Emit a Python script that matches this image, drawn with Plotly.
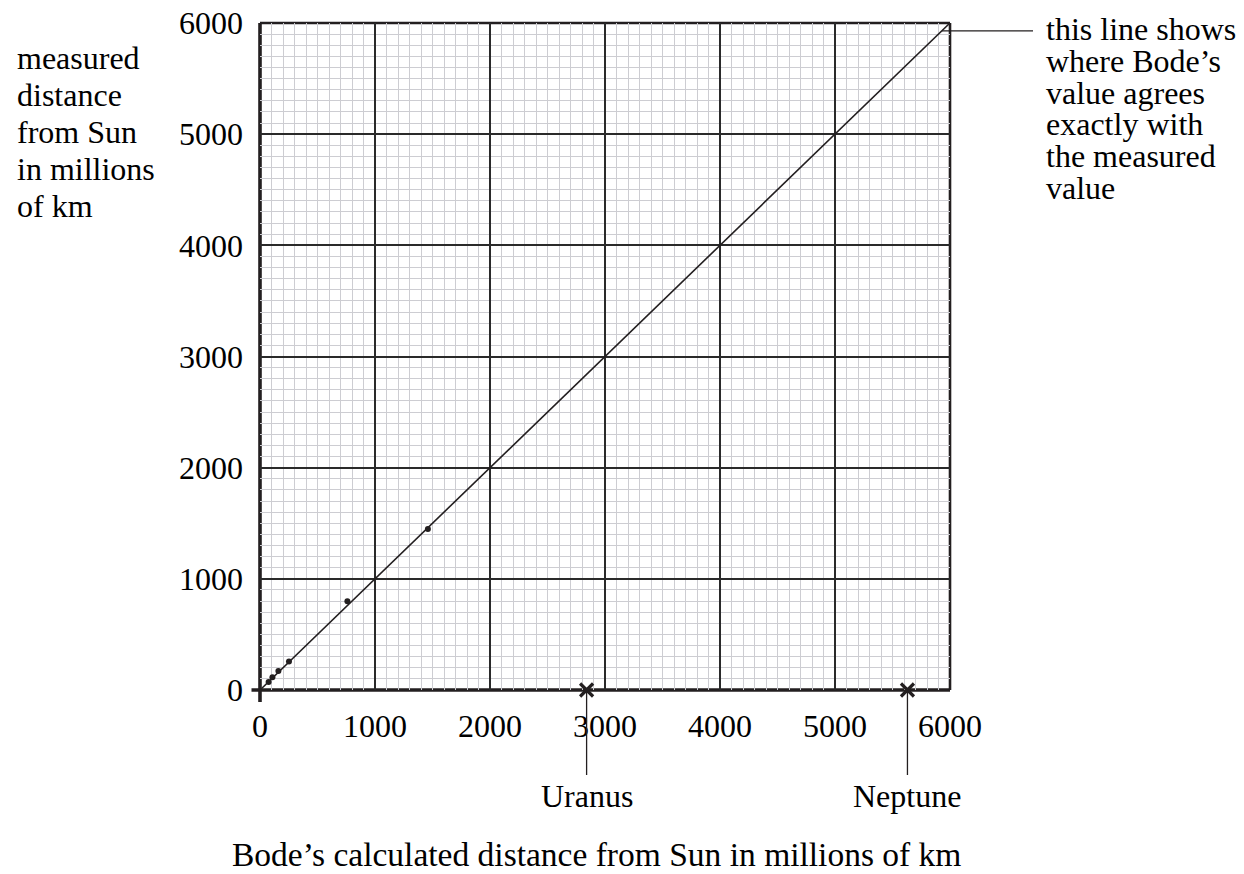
import plotly.graph_objects as go

# ---- data ----
planets = ["Mercury", "Venus", "Earth", "Mars", "Jupiter", "Saturn"]
bode_calc = [75, 108, 160, 252, 760, 1460]
measured = [72, 115, 171, 256, 798, 1448]

outer_planets = ["Uranus", "Neptune"]
outer_bode = [2840, 5630]
outer_measured = [0, 0]

agree_line = [0, 6000]
tick_vals = [0, 1000, 2000, 3000, 4000, 5000, 6000]
tick_text = ["0", "1000", "2000", "3000", "4000", "5000", "6000"]

y_title_lines = ["measured", "distance", "from Sun", "in millions", "of km"]
note_lines = ["this line shows", "where Bode\u2019s", "value agrees",
              "exactly with", "the measured", "value"]
x_title = "Bode\u2019s calculated distance from Sun in millions of km"

# ---- layout geometry ----
W, H = 1244, 874
L, T, PW, PH = 260, 23, 690, 667
FONT = "Liberation Serif, Times New Roman, serif"
INK = "#231f20"
FS = 32


def px(xp):
    return (xp - L) / PW


def py(yp):
    return (T + PH - yp) / PH


fig = go.Figure()

fig.add_trace(go.Scatter(x=agree_line, y=agree_line, mode="lines",
                         line=dict(color=INK, width=1.6), hoverinfo="skip",
                         showlegend=False))
fig.add_trace(go.Scatter(x=bode_calc, y=measured, mode="markers", text=planets,
                         marker=dict(color=INK, size=6), showlegend=False))
fig.add_trace(go.Scatter(x=outer_bode, y=outer_measured, mode="markers",
                         text=outer_planets, cliponaxis=False,
                         marker=dict(symbol="x-thin", size=13, color=INK,
                                     line=dict(color=INK, width=3.2)),
                         showlegend=False))

axis_common = dict(
    range=[0, 6000], tickvals=tick_vals, ticktext=tick_text,
    showgrid=True, gridcolor="#2a2a2a", gridwidth=1.8,
    minor=dict(dtick=100, tick0=0, showgrid=True, gridcolor="#cdcdd2",
               gridwidth=1.1),
    zeroline=False, showline=False, ticks="", automargin=False,
    tickfont=dict(family=FONT, size=FS, color="black"),
    fixedrange=True,
)
fig.update_xaxes(**axis_common, ticklabelstandoff=14)
fig.update_yaxes(**axis_common, ticklabelstandoff=16)

shapes = []
# axes (thick) with small extension past origin, and thinner top/right border
shapes.append(dict(type="line", xref="paper", yref="paper", x0=px(251.5), x1=1,
                   y0=0, y1=0, line=dict(color=INK, width=3.6), layer="between"))
shapes.append(dict(type="line", xref="paper", yref="paper", x0=0, x1=0,
                   y0=py(702), y1=1, line=dict(color=INK, width=3.6), layer="between"))
shapes.append(dict(type="line", xref="paper", yref="paper", x0=0, x1=1,
                   y0=1, y1=1, line=dict(color=INK, width=2.4), layer="between"))
shapes.append(dict(type="line", xref="paper", yref="paper", x0=1, x1=1,
                   y0=0, y1=1, line=dict(color=INK, width=2.6), layer="between"))
# leader lines for Uranus / Neptune
for xv in outer_bode:
    shapes.append(dict(type="line", xref="x", yref="paper", x0=xv, x1=xv,
                       y0=0, y1=py(775), line=dict(color=INK, width=1.3)))
# leader line from the agreement line to the note
top_val = 5930
shapes.append(dict(type="line", xref="paper", yref="paper",
                   x0=top_val / 6000, x1=px(1033), y0=top_val / 6000,
                   y1=top_val / 6000, line=dict(color=INK, width=1.3)))

annotations = []
for i, t in enumerate(y_title_lines):
    annotations.append(dict(text=t, xref="paper", yref="paper", x=px(15),
                            y=py(58 + i * 37), xanchor="left", yanchor="middle",
                            showarrow=False,
                            font=dict(family=FONT, size=FS, color="black")))
for i, t in enumerate(note_lines):
    annotations.append(dict(text=t, xref="paper", yref="paper", x=px(1044),
                            y=py(29 + i * 31.8), xanchor="left", yanchor="middle",
                            showarrow=False,
                            font=dict(family=FONT, size=FS, color="black")))
for name, xv in zip(outer_planets, outer_bode):
    annotations.append(dict(text=name, xref="x", yref="paper", x=xv,
                            y=py(796), xanchor="center", yanchor="middle",
                            showarrow=False,
                            font=dict(family=FONT, size=FS, color="black")))
annotations.append(dict(text=x_title, xref="paper", yref="paper", x=px(596),
                        y=py(854), xanchor="center", yanchor="middle",
                        showarrow=False,
                        font=dict(family=FONT, size=33.5, color="black")))

fig.update_layout(
    width=W, height=H,
    margin=dict(l=L, r=W - L - PW, t=T, b=H - T - PH, pad=0,
                autoexpand=False),
    paper_bgcolor="white", plot_bgcolor="white",
    shapes=shapes, annotations=annotations,
    showlegend=False,
)

fig.write_html("out.html", config={"displayModeBar": False},
               post_script="document.body.style.margin='0';"
                           "document.body.style.padding='0';")
